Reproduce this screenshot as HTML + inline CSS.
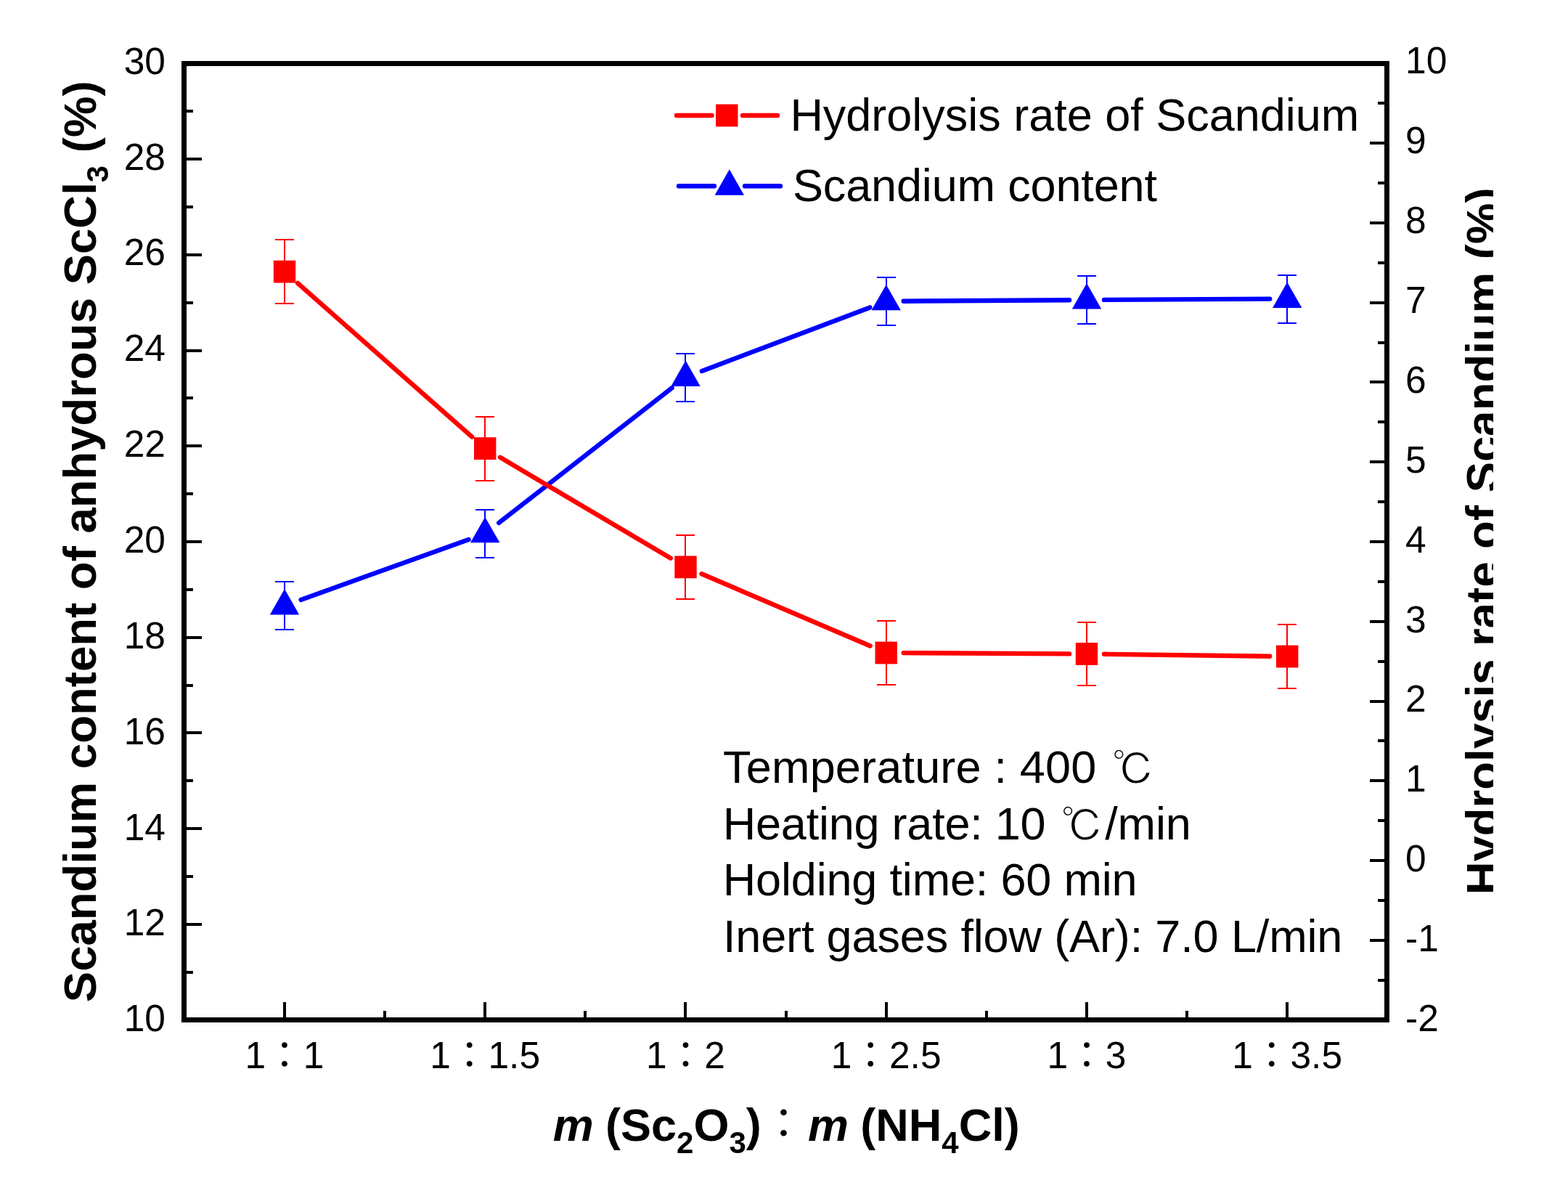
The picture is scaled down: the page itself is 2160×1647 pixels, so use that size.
<!DOCTYPE html>
<html lang="en"><head><meta charset="utf-8">
<title>Scandium content and hydrolysis rate of Scandium</title>
<style>
html,body{margin:0;padding:0;background:#fff;}
body{width:2160px;height:1647px;overflow:hidden;}
svg{display:block;}
text{font-family:"Liberation Sans","Noto Sans CJK JP",sans-serif;fill:#000;}
.tick{font-size:51.5px;}
.leg{font-size:63px;}
.note{font-size:63px;}
.ttl{font-size:63px;font-weight:bold;}
.sub{font-size:42px;}
.deg{font-family:"Liberation Sans","IPAGothic",sans-serif;font-weight:normal;font-size:59px;letter-spacing:0;stroke:#fff;stroke-width:1.1px;}
.col{font-family:"Liberation Sans","Noto Sans CJK JP",sans-serif;font-weight:normal;font-size:57px;}
.ax{stroke:#000;fill:none;}
.red{stroke:#f00;fill:none;}
.blue{stroke:#00f;fill:none;}
</style></head><body>
<svg width="2160" height="1647" viewBox="0 0 2160 1647">
<rect x="0" y="0" width="2160" height="1647" fill="#fff"/>
<defs><clipPath id="rclip"><rect x="1990" y="0" width="67" height="1647"/></clipPath></defs>
<g class="ax" shape-rendering="crispEdges">
<rect x="253.5" y="87.5" width="1657.0" height="1317.0" stroke-width="7"/>
<line x1="257.0" y1="1339.0" x2="266.0" y2="1339.0" stroke-width="4"/>
<line x1="257.0" y1="1273.0" x2="278.0" y2="1273.0" stroke-width="4"/>
<line x1="257.0" y1="1207.0" x2="266.0" y2="1207.0" stroke-width="4"/>
<line x1="257.0" y1="1141.0" x2="278.0" y2="1141.0" stroke-width="4"/>
<line x1="257.0" y1="1075.0" x2="266.0" y2="1075.0" stroke-width="4"/>
<line x1="257.0" y1="1009.0" x2="278.0" y2="1009.0" stroke-width="4"/>
<line x1="257.0" y1="944.0" x2="266.0" y2="944.0" stroke-width="4"/>
<line x1="257.0" y1="878.0" x2="278.0" y2="878.0" stroke-width="4"/>
<line x1="257.0" y1="812.0" x2="266.0" y2="812.0" stroke-width="4"/>
<line x1="257.0" y1="746.0" x2="278.0" y2="746.0" stroke-width="4"/>
<line x1="257.0" y1="680.0" x2="266.0" y2="680.0" stroke-width="4"/>
<line x1="257.0" y1="614.0" x2="278.0" y2="614.0" stroke-width="4"/>
<line x1="257.0" y1="548.0" x2="266.0" y2="548.0" stroke-width="4"/>
<line x1="257.0" y1="483.0" x2="278.0" y2="483.0" stroke-width="4"/>
<line x1="257.0" y1="417.0" x2="266.0" y2="417.0" stroke-width="4"/>
<line x1="257.0" y1="351.0" x2="278.0" y2="351.0" stroke-width="4"/>
<line x1="257.0" y1="285.0" x2="266.0" y2="285.0" stroke-width="4"/>
<line x1="257.0" y1="219.0" x2="278.0" y2="219.0" stroke-width="4"/>
<line x1="257.0" y1="153.0" x2="266.0" y2="153.0" stroke-width="4"/>
<line x1="1907.0" y1="1350.0" x2="1898.0" y2="1350.0" stroke-width="4"/>
<line x1="1907.0" y1="1295.0" x2="1887.0" y2="1295.0" stroke-width="4"/>
<line x1="1907.0" y1="1240.0" x2="1898.0" y2="1240.0" stroke-width="4"/>
<line x1="1907.0" y1="1185.0" x2="1887.0" y2="1185.0" stroke-width="4"/>
<line x1="1907.0" y1="1130.0" x2="1898.0" y2="1130.0" stroke-width="4"/>
<line x1="1907.0" y1="1075.0" x2="1887.0" y2="1075.0" stroke-width="4"/>
<line x1="1907.0" y1="1020.0" x2="1898.0" y2="1020.0" stroke-width="4"/>
<line x1="1907.0" y1="966.0" x2="1887.0" y2="966.0" stroke-width="4"/>
<line x1="1907.0" y1="911.0" x2="1898.0" y2="911.0" stroke-width="4"/>
<line x1="1907.0" y1="856.0" x2="1887.0" y2="856.0" stroke-width="4"/>
<line x1="1907.0" y1="801.0" x2="1898.0" y2="801.0" stroke-width="4"/>
<line x1="1907.0" y1="746.0" x2="1887.0" y2="746.0" stroke-width="4"/>
<line x1="1907.0" y1="691.0" x2="1898.0" y2="691.0" stroke-width="4"/>
<line x1="1907.0" y1="636.0" x2="1887.0" y2="636.0" stroke-width="4"/>
<line x1="1907.0" y1="581.0" x2="1898.0" y2="581.0" stroke-width="4"/>
<line x1="1907.0" y1="526.0" x2="1887.0" y2="526.0" stroke-width="4"/>
<line x1="1907.0" y1="472.0" x2="1898.0" y2="472.0" stroke-width="4"/>
<line x1="1907.0" y1="417.0" x2="1887.0" y2="417.0" stroke-width="4"/>
<line x1="1907.0" y1="362.0" x2="1898.0" y2="362.0" stroke-width="4"/>
<line x1="1907.0" y1="307.0" x2="1887.0" y2="307.0" stroke-width="4"/>
<line x1="1907.0" y1="252.0" x2="1898.0" y2="252.0" stroke-width="4"/>
<line x1="1907.0" y1="197.0" x2="1887.0" y2="197.0" stroke-width="4"/>
<line x1="1907.0" y1="142.0" x2="1898.0" y2="142.0" stroke-width="4"/>
<line x1="392.0" y1="1401.0" x2="392.0" y2="1380.0" stroke-width="4"/>
<line x1="530.0" y1="1401.0" x2="530.0" y2="1392.0" stroke-width="4"/>
<line x1="668.0" y1="1401.0" x2="668.0" y2="1380.0" stroke-width="4"/>
<line x1="806.0" y1="1401.0" x2="806.0" y2="1392.0" stroke-width="4"/>
<line x1="944.0" y1="1401.0" x2="944.0" y2="1380.0" stroke-width="4"/>
<line x1="1083.0" y1="1401.0" x2="1083.0" y2="1392.0" stroke-width="4"/>
<line x1="1221.0" y1="1401.0" x2="1221.0" y2="1380.0" stroke-width="4"/>
<line x1="1359.0" y1="1401.0" x2="1359.0" y2="1392.0" stroke-width="4"/>
<line x1="1497.0" y1="1401.0" x2="1497.0" y2="1380.0" stroke-width="4"/>
<line x1="1635.0" y1="1401.0" x2="1635.0" y2="1392.0" stroke-width="4"/>
<line x1="1773.0" y1="1401.0" x2="1773.0" y2="1380.0" stroke-width="4"/>
</g>
<g class="tick">
<text x="228" y="1420.2" text-anchor="end">10</text>
<text x="228" y="1288.3" text-anchor="end">12</text>
<text x="228" y="1156.5" text-anchor="end">14</text>
<text x="228" y="1024.6" text-anchor="end">16</text>
<text x="228" y="892.8" text-anchor="end">18</text>
<text x="228" y="760.9" text-anchor="end">20</text>
<text x="228" y="629.0" text-anchor="end">22</text>
<text x="228" y="497.2" text-anchor="end">24</text>
<text x="228" y="365.3" text-anchor="end">26</text>
<text x="228" y="233.5" text-anchor="end">28</text>
<text x="228" y="101.6" text-anchor="end">30</text>
<text x="1936" y="1420.0" text-anchor="start">-2</text>
<text x="1936" y="1310.1" text-anchor="start">-1</text>
<text x="1936" y="1200.2" text-anchor="start">0</text>
<text x="1936" y="1090.3" text-anchor="start">1</text>
<text x="1936" y="980.4" text-anchor="start">2</text>
<text x="1936" y="870.5" text-anchor="start">3</text>
<text x="1936" y="760.6" text-anchor="start">4</text>
<text x="1936" y="650.6" text-anchor="start">5</text>
<text x="1936" y="540.7" text-anchor="start">6</text>
<text x="1936" y="430.8" text-anchor="start">7</text>
<text x="1936" y="320.9" text-anchor="start">8</text>
<text x="1936" y="211.0" text-anchor="start">9</text>
<text x="1936" y="101.1" text-anchor="start">10</text>
<text x="392.0" y="1471.4" text-anchor="middle">1：1</text>
<text x="668.2" y="1471.4" text-anchor="middle">1：1.5</text>
<text x="944.5" y="1471.4" text-anchor="middle">1：2</text>
<text x="1220.7" y="1471.4" text-anchor="middle">1：2.5</text>
<text x="1497.0" y="1471.4" text-anchor="middle">1：3</text>
<text x="1773.2" y="1471.4" text-anchor="middle">1：3.5</text>
</g>
<g class="blue">
<line x1="414.6" y1="825.9" x2="645.6" y2="743.0" stroke-width="6.4" stroke-linecap="round"/>
<line x1="687.2" y1="720.1" x2="925.6" y2="534.3" stroke-width="6.4" stroke-linecap="round"/>
<line x1="966.9" y1="511.0" x2="1198.3" y2="423.4" stroke-width="6.4" stroke-linecap="round"/>
<line x1="1244.7" y1="414.7" x2="1473.0" y2="413.2" stroke-width="6.4" stroke-linecap="round"/>
<line x1="1521.0" y1="412.9" x2="1749.2" y2="411.6" stroke-width="6.4" stroke-linecap="round"/>
<path shape-rendering="crispEdges" stroke-width="2" d="M392 801.0V867.0M379 801.0H405M379 867.0H405"/>
<path shape-rendering="crispEdges" stroke-width="2" d="M668 701.9V767.9M655 701.9H681M655 767.9H681"/>
<path shape-rendering="crispEdges" stroke-width="2" d="M944 486.5V552.5M931 486.5H957M931 552.5H957"/>
<path shape-rendering="crispEdges" stroke-width="2" d="M1221 381.9V447.9M1208 381.9H1234M1208 447.9H1234"/>
<path shape-rendering="crispEdges" stroke-width="2" d="M1497 380.0V446.0M1484 380.0H1510M1484 446.0H1510"/>
<path shape-rendering="crispEdges" stroke-width="2" d="M1773 378.5V444.5M1760 378.5H1786M1760 444.5H1786"/>
</g>
<g fill="#00f">
<path d="M392.0 811.0L412.2 846.4H371.8Z"/>
<path d="M668.2 711.9L688.4 747.3H648.0Z"/>
<path d="M944.5 496.5L964.7 531.9H924.3Z"/>
<path d="M1220.7 391.9L1240.9 427.3H1200.5Z"/>
<path d="M1497.0 390.0L1517.2 425.4H1476.8Z"/>
<path d="M1773.2 388.5L1793.4 423.9H1753.0Z"/>
</g>
<g class="red">
<line x1="410.0" y1="389.9" x2="650.2" y2="601.7" stroke-width="6.4" stroke-linecap="round"/>
<line x1="688.9" y1="629.8" x2="923.8" y2="768.7" stroke-width="6.4" stroke-linecap="round"/>
<line x1="966.5" y1="790.3" x2="1198.7" y2="889.5" stroke-width="6.4" stroke-linecap="round"/>
<line x1="1244.7" y1="899.1" x2="1473.0" y2="900.4" stroke-width="6.4" stroke-linecap="round"/>
<line x1="1521.0" y1="900.8" x2="1749.2" y2="903.7" stroke-width="6.4" stroke-linecap="round"/>
<path shape-rendering="crispEdges" stroke-width="2" d="M392 330.2V417.9M379 330.2H405M379 417.9H405"/>
<path shape-rendering="crispEdges" stroke-width="2" d="M668 573.7V661.5M655 573.7H681M655 661.5H681"/>
<path shape-rendering="crispEdges" stroke-width="2" d="M944 737.0V824.8M931 737.0H957M931 824.8H957"/>
<path shape-rendering="crispEdges" stroke-width="2" d="M1221 855.1V942.9M1208 855.1H1234M1208 942.9H1234"/>
<path shape-rendering="crispEdges" stroke-width="2" d="M1497 856.6V944.4M1484 856.6H1510M1484 944.4H1510"/>
<path shape-rendering="crispEdges" stroke-width="2" d="M1773 860.1V947.9M1760 860.1H1786M1760 947.9H1786"/>
</g>
<g fill="#f00">
<rect x="376.8" y="358.7" width="30.4" height="30.8"/>
<rect x="653.0" y="602.2" width="30.4" height="30.8"/>
<rect x="929.3" y="765.5" width="30.4" height="30.8"/>
<rect x="1205.5" y="883.6" width="30.4" height="30.8"/>
<rect x="1481.8" y="885.1" width="30.4" height="30.8"/>
<rect x="1758.0" y="888.6" width="30.4" height="30.8"/>
</g>
<g>
<path class="red" stroke-width="6.4" stroke-linecap="round" d="M932 159H980.5M1023 159H1071"/>
<rect fill="#f00" x="986.1" y="143.6" width="30.4" height="30.8"/>
<path class="blue" stroke-width="6.4" stroke-linecap="round" d="M935 256.3H984M1026 256.3H1075"/>
<path fill="#00f" d="M1004.8 233.3L1025.0 268.7H984.6Z"/>
<text class="leg" x="1088.4" y="180.2" style="letter-spacing:-0.02px">Hydrolysis rate of Scandium</text>
<text class="leg" x="1092.0" y="276.5" style="letter-spacing:-0.16px">Scandium content</text>
</g>
<g class="note">
<text x="996.1" y="1078.2" xml:space="preserve" style="letter-spacing:0.18px">Temperature : 400 <tspan class="deg" x="1531.8" y="1080.5">℃</tspan></text>
<text x="995.8" y="1156.3" xml:space="preserve" style="letter-spacing:-0.23px">Heating rate: 10 <tspan class="deg" x="1461.6" y="1158.6">℃</tspan><tspan x="1522.3" y="1156.3" style="letter-spacing:-0.2px">/min</tspan></text>
<text x="995.8" y="1233" style="letter-spacing:-0.18px">Holding time: 60 min</text>
<text x="995.9" y="1311" style="letter-spacing:-0.14px">Inert gases flow (Ar): 7.0 L/min</text>
</g>
<text class="ttl" x="1082" y="1570.9" text-anchor="middle" xml:space="preserve"><tspan font-style="italic" dx="1.2">m</tspan><tspan dx="-1.2"> (Sc</tspan><tspan class="sub" dy="17">2</tspan><tspan dy="-17">O</tspan><tspan class="sub" dy="17">3</tspan><tspan dy="-17">)</tspan><tspan class="col" dx="2.2" dy="-4">：</tspan><tspan font-style="italic" dx="5.0" dy="4">m</tspan><tspan dx="-1.2"> (NH</tspan><tspan class="sub" dy="17">4</tspan><tspan dy="-17">Cl)</tspan></text>
<text class="ttl" transform="translate(132.3 745.8) rotate(-90)" text-anchor="middle" style="font-size:63.5px;letter-spacing:0px">Scandium content of anhydrous ScCl<tspan class="sub" dy="17">3</tspan><tspan dy="-17"> (%)</tspan></text>
<g clip-path="url(#rclip)"><text class="ttl" transform="translate(2063.6 745.4) rotate(-90)" text-anchor="middle" style="font-size:63.5px;letter-spacing:0px">Hydrolysis rate of Scandium (%)</text></g>
</svg>
</body></html>
